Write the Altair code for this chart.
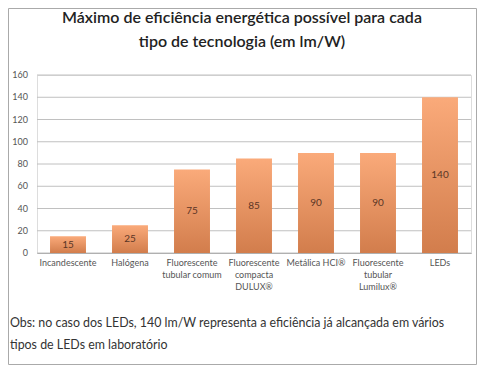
import altair as alt
import pandas as pd

categories = ["Incandescente", "Halógena", "Fluorescente\ntubular comum",
              "Fluorescente\ncompacta\nDULUX®", "Metálica HCI®",
              "Fluorescente\ntubular\nLumilux®", "LEDs"]
values = [15, 25, 75, 85, 90, 90, 140]
title_lines = ["Máximo de eficiência energética possível para cada",
               "tipo de tecnologia (em lm/W)"]
note_lines = ["Obs: no caso dos LEDs, 140 lm/W representa  a eficiência já alcançada em vários",
              "tipos de LEDs em laboratório"]
y_ticks = [0, 20, 40, 60, 80, 100, 120, 140, 160]

df = pd.DataFrame({"cat": categories, "val": values})
df["mid"] = df["val"] / 2
grid_df = pd.DataFrame({"g": y_ticks})

FONT = "Lato"
W, H = 434, 178

x = alt.X("cat:N", sort=categories, title=None,
          scale=alt.Scale(paddingInner=0.42, paddingOuter=0.21),
          axis=alt.Axis(labelExpr="split(datum.label, '\\n')", labelAngle=0,
                        labelFontSize=9, labelColor="#555555", labelFont=FONT,
                        labelLineHeight=12, labelPadding=5, ticks=False,
                        domainColor="#a0a0a0", labelBaseline="top", grid=False))
yscale = alt.Scale(domain=[0, 160], nice=False)

grad = alt.Gradient(gradient="linear",
                    stops=[alt.GradientStop(color="#FAAA7A", offset=0),
                           alt.GradientStop(color="#D27D4C", offset=1)],
                    x1=0, x2=0, y1=0, y2=1)

grid = alt.Chart(grid_df).mark_rule(color="#c0c0c0", strokeWidth=1).encode(
    y=alt.Y("g:Q", scale=yscale, axis=None), x=alt.value(0), x2=alt.value(W))
ylabels = alt.Chart(grid_df).mark_text(align="right", baseline="middle", fontSize=9,
                                      color="#555555", font=FONT, clip=False).encode(
    y=alt.Y("g:Q", scale=yscale, axis=None), x=alt.value(-9), text="g:Q")

bars = alt.Chart(df).mark_bar(color=grad).encode(
    x=x, y=alt.Y("val:Q", title=None, scale=yscale, axis=None))
labels = alt.Chart(df).mark_text(fontSize=10, color="#5a3525", font=FONT).encode(
    x=alt.X("cat:N", sort=categories),
    y=alt.Y("mid:Q", title=None, scale=yscale, axis=None), text="val:Q")

one = pd.DataFrame({"a": [0]})

def line_text(txt, xpos, ypos, size, weight="normal", align="left", color="#333333"):
    return alt.Chart(one).mark_text(align=align, baseline="middle", fontSize=size,
                                   fontWeight=weight, color=color, font=FONT,
                                   clip=False).encode(
        x=alt.value(xpos), y=alt.value(ypos), text=alt.value(txt))

t1 = line_text(title_lines[0], 205, -57, 16, 600, "center", "#222222")
t2 = line_text(title_lines[1], 205, -33, 16, 600, "center", "#222222")
n1 = line_text(note_lines[0], -27, 248, 12.4)
n2 = line_text(note_lines[1], -27, 270, 12.4)

border = alt.Chart(one).mark_rect(fill=None, stroke="#aaaaaa", strokeWidth=1, clip=False).encode(
    x=alt.value(-28.5), x2=alt.value(439.5), y=alt.value(-66.5), y2=alt.value(289.5))

chart = alt.layer(border, grid, ylabels, bars, labels, t1, t2, n1, n2).properties(
    width=W, height=H,
    padding={"left": 29, "top": 67, "right": 6, "bottom": 112},
    autosize=alt.AutoSizeParams(type="none"),
).configure_view(stroke=None).configure(background="white")

chart.save("out.html", embed_options={"renderer": "svg", "actions": False})
